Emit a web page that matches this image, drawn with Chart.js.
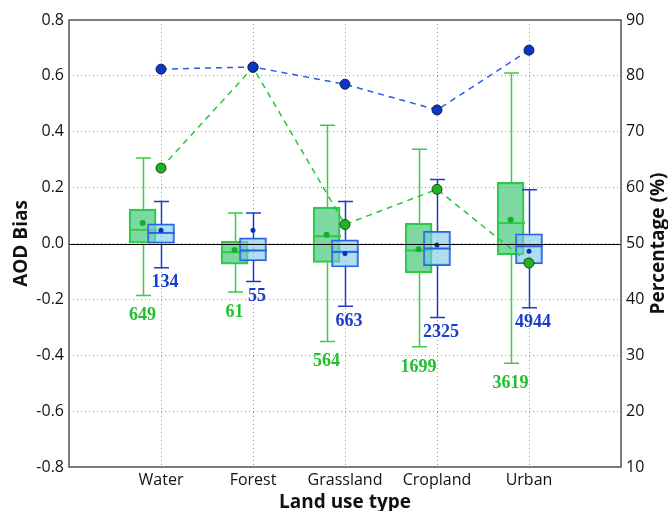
<!DOCTYPE html>
<html>
<head>
<meta charset="utf-8">
<script src="https://cdn.jsdelivr.net/npm/chart.js@4.4.1/dist/chart.umd.min.js"></script>
<style>
    html, body { margin: 0; padding: 0; background: #fff; }
    #wrap { width: 668px; height: 511px; }
</style>
</head>
<body>
<div id="wrap"><canvas id="myChart" width="668" height="511"></canvas></div>
<script>
const categories = ['Water', 'Forest', 'Grassland', 'Cropland', 'Urban'];

// green boxes (AOD bias)
const greenMin = [-0.186, -0.174, -0.351, -0.370, -0.429];
const greenQ1 = [0.000, -0.074, -0.068, -0.105, -0.041];
const greenMedian = [0.049, -0.031, 0.026, -0.025, 0.073];
const greenQ3 = [0.123, 0.008, 0.130, 0.073, 0.219];
const greenMax = [0.306, 0.109, 0.423, 0.337, 0.610];
const greenMean = [0.073, -0.023, 0.031, -0.021, 0.085];
const greenCount = [649, 61, 564, 1699, 3619];
const greenPercent = [63.5, 81.5, 53.4, 59.7, 46.5];

// blue boxes (AOD bias)
const blueMin = [-0.087, -0.136, -0.225, -0.265, -0.230];
const blueQ1 = [0.001, -0.062, -0.084, -0.079, -0.073];
const blueMedian = [0.038, -0.025, -0.030, -0.018, -0.010];
const blueQ3 = [0.070, 0.020, 0.013, 0.044, 0.035];
const blueMax = [0.150, 0.109, 0.150, 0.229, 0.192];
const blueMean = [0.047, 0.047, -0.036, -0.005, -0.028];
const blueCount = [134, 55, 663, 2325, 4944];
const bluePercent = [81.2, 81.6, 78.5, 73.9, 84.6];

const leftTicks = [-0.8, -0.6, -0.4, -0.2, 0.0, 0.2, 0.4, 0.6, 0.8];
const rightTicks = [10, 20, 30, 40, 50, 60, 70, 80, 90];

const GREEN = '#2ecc40';
const BLUE = '#2a62e0';
const BLUE_DARK = '#1a3ccc';
const BOX_W = 27;

function at(shift, values) {
    return values.map((v, i) => ({ x: i + 1 + shift, y: v }));
}

// whiskers, caps and medians drawn right after their box dataset
const boxPlugin = {
    id: 'boxParts',
    afterDatasetDraw(chart, args) {
        const ds = chart.data.datasets[args.index];
        if (!ds.box) return;
        const xs = chart.scales.x, ys = chart.scales.y, ctx = chart.ctx;
        const b = ds.box;
        ctx.save();
        ctx.lineWidth = 1.5;
        b.median.forEach((m, i) => {
            const cx = Math.round(xs.getPixelForValue(i + 1 + b.shift)) + 0.5;
            const yMin = ys.getPixelForValue(b.min[i]);
            const yMax = ys.getPixelForValue(b.max[i]);
            const yQ1 = ys.getPixelForValue(b.q1[i]);
            const yQ3 = ys.getPixelForValue(b.q3[i]);
            const yMed = ys.getPixelForValue(m);
            ctx.strokeStyle = b.whisker;
            ctx.beginPath();
            ctx.moveTo(cx, yQ3); ctx.lineTo(cx, yMax);
            ctx.moveTo(cx, yQ1); ctx.lineTo(cx, yMin);
            ctx.moveTo(cx - 7.5, yMax); ctx.lineTo(cx + 7.5, yMax);
            ctx.moveTo(cx - 7.5, yMin); ctx.lineTo(cx + 7.5, yMin);
            ctx.stroke();
            ctx.strokeStyle = ds.borderColor;
            ctx.lineWidth = 2;
            ctx.beginPath();
            ctx.moveTo(cx - BOX_W / 2, yMed); ctx.lineTo(cx + BOX_W / 2, yMed);
            ctx.stroke();
            ctx.lineWidth = 1.5;
        });
        ctx.restore();
    },
    afterDatasetsDraw(chart) {
        const { ctx, chartArea } = chart;
        const ys = chart.scales.y;
        const y0 = Math.round(ys.getPixelForValue(0)) + 0.5;
        ctx.save();
        ctx.strokeStyle = '#000';
        ctx.lineWidth = 1.2;
        ctx.beginPath();
        ctx.moveTo(chartArea.left, y0);
        ctx.lineTo(chartArea.right, y0);
        ctx.stroke();
        ctx.strokeStyle = '#555';
        ctx.lineWidth = 1.5;
        ctx.strokeRect(chartArea.left, chartArea.top, chartArea.right - chartArea.left, chartArea.bottom - chartArea.top);
        ctx.restore();
    },
    afterDraw(chart) {
        const { ctx, chartArea } = chart;
        const xs = chart.scales.x, ys = chart.scales.y;
        ctx.save();
        ctx.font = 'bold 18px "Liberation Serif"';
        ctx.textAlign = 'center';
        ctx.textBaseline = 'middle';
        greenCount.forEach((n, i) => {
            ctx.fillStyle = '#22c02e';
            ctx.fillText(n, xs.getPixelForValue(i + 0.8), ys.getPixelForValue(greenMin[i]) + 20);
        });
        blueCount.forEach((n, i) => {
            ctx.fillStyle = '#1a3ccc';
            ctx.fillText(n, xs.getPixelForValue(i + 1) + 4, ys.getPixelForValue(blueMin[i]) + 15);
        });
        // right axis title, reading bottom to top
        ctx.font = 'bold 19px "Open Sans"';
        ctx.fillStyle = '#111';
        ctx.translate(659, (chartArea.top + chartArea.bottom) / 2);
        ctx.rotate(-Math.PI / 2);
        ctx.fillText('Percentage (%)', 0, 0);
        ctx.restore();
    }
};

const ctx = document.getElementById('myChart').getContext('2d');

new Chart(ctx, {
    type: 'bar',
    data: {
        datasets: [
            {
                type: 'line',
                data: at(0, bluePercent),
                yAxisID: 'y2',
                borderColor: '#2a5ee0',
                borderWidth: 1.5,
                borderDash: [6, 5],
                pointRadius: 5,
                pointBackgroundColor: '#0a36c8',
                pointBorderColor: '#102050',
                pointBorderWidth: 1,
                order: 0
            },
            {
                type: 'line',
                data: at(0, greenPercent),
                yAxisID: 'y2',
                borderColor: '#22c83a',
                borderWidth: 1.5,
                borderDash: [6, 5],
                pointRadius: 5,
                pointBackgroundColor: '#1fb51f',
                pointBorderColor: '#154a15',
                pointBorderWidth: 1,
                order: 1
            },
            {
                type: 'line',
                showLine: false,
                data: at(-0.2, greenMean),
                pointRadius: 3,
                pointBackgroundColor: '#12b02a',
                pointBorderWidth: 0,
                order: 2
            },
            {
                type: 'line',
                showLine: false,
                data: at(0, blueMean),
                pointRadius: 2.5,
                pointBackgroundColor: '#0a30c0',
                pointBorderWidth: 0,
                order: 2
            },
            {
                data: blueQ1.map((q, i) => ({ x: i + 1, y: [q, blueQ3[i]] })),
                backgroundColor: 'rgba(120, 200, 230, 0.6)',
                borderColor: BLUE,
                borderWidth: 1.5,
                borderSkipped: false,
                barThickness: BOX_W,
                grouped: false,
                box: { shift: 0, min: blueMin, max: blueMax, q1: blueQ1, q3: blueQ3, median: blueMedian, whisker: BLUE_DARK },
                order: 4
            },
            {
                data: greenQ1.map((q, i) => ({ x: i + 0.8, y: [q, greenQ3[i]] })),
                backgroundColor: 'rgba(40, 190, 100, 0.6)',
                borderColor: GREEN,
                borderWidth: 1.5,
                borderSkipped: false,
                barThickness: BOX_W,
                grouped: false,
                box: { shift: -0.2, min: greenMin, max: greenMax, q1: greenQ1, q3: greenQ3, median: greenMedian, whisker: '#38cc48' },
                order: 5
            }
        ]
    },
    options: {
        responsive: false,
        animation: false,
        layout: { padding: { top: 20, left: 0, right: 0, bottom: 0 } },
        plugins: {
            legend: { display: false },
            tooltip: { enabled: false }
        },
        scales: {
            x: {
                type: 'linear',
                min: 0,
                max: 6,
                offset: false,
                afterFit: s => { s.height = 44; },
                afterBuildTicks: s => { s.ticks = [0, 1, 2, 3, 4, 5, 6].map(v => ({ value: v })); },
                ticks: {
                    callback: v => categories[v - 1] || '',
                    font: { family: 'Open Sans', size: 16 },
                    color: '#111',
                    padding: 4,
                    maxRotation: 0,
                    autoSkip: false
                },
                grid: { color: '#9a9a9a', lineWidth: 1, drawTicks: false, offset: false },
                border: { display: false, dash: [1, 3] },
                title: {
                    display: true,
                    text: 'Land use type',
                    font: { family: 'Open Sans', size: 19, weight: 'bold', lineHeight: 1 },
                    color: '#111',
                    padding: { top: 0, bottom: -1 }
                }
            },
            y: {
                position: 'left',
                min: -0.8,
                max: 0.8,
                afterFit: s => { s.width = 69; },
                afterBuildTicks: s => { s.ticks = leftTicks.map(v => ({ value: v })); },
                ticks: {
                    callback: v => v.toFixed(1),
                    font: { family: 'Open Sans', size: 16 },
                    color: '#111',
                    padding: 5
                },
                grid: { color: '#9a9a9a', lineWidth: 1, drawTicks: false },
                border: { display: false, dash: [1, 3] },
                title: {
                    display: true,
                    text: 'AOD Bias',
                    font: { family: 'Open Sans', size: 19, weight: 'bold', lineHeight: 1 },
                    color: '#111',
                    padding: { top: 12, bottom: 0 }
                }
            },
            y2: {
                position: 'right',
                min: 10,
                max: 90,
                afterFit: s => { s.width = 47; },
                afterBuildTicks: s => { s.ticks = rightTicks.map(v => ({ value: v })); },
                ticks: {
                    font: { family: 'Open Sans', size: 16 },
                    color: '#111',
                    padding: 5
                },
                grid: { drawOnChartArea: false, drawTicks: false },
                border: { display: false }
            }
        }
    },
    plugins: [boxPlugin]
});
</script>
</body>
</html>
